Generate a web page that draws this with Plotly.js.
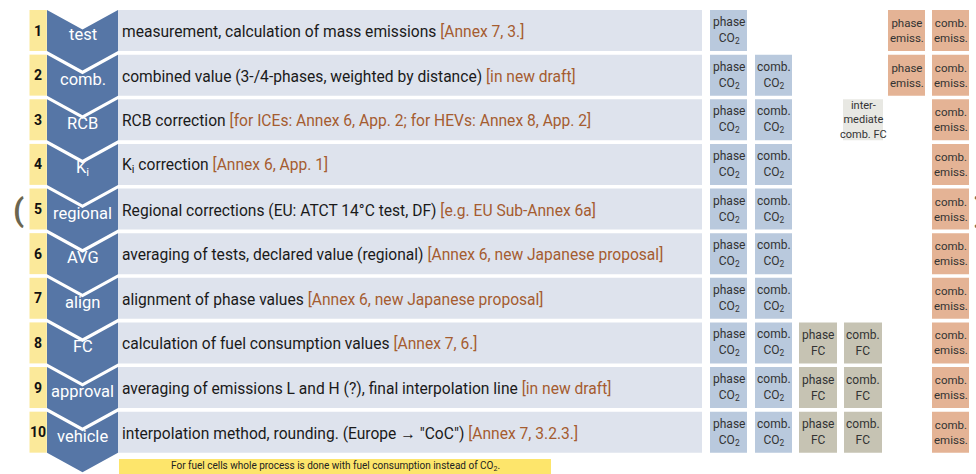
<!DOCTYPE html>
<html>
<head>
<meta charset="utf-8">
<script src="https://cdn.plot.ly/plotly-3.0.1.min.js"></script>
<style>html,body{margin:0;padding:0;background:#fff}#chart{width:976px;height:474px}</style>
</head>
<body>
<div id="chart"></div>
<script>
// ---- data ----
const stepNumbers = ['1','2','3','4','5','6','7','8','9','10'];
const stepLabels = ['test','comb.','RCB','K<sub>i</sub>','regional','AVG','align','FC','approval','vehicle'];
const stepTexts = [
  'measurement, calculation of mass emissions',
  'combined value (3-/4-phases, weighted by distance)',
  'RCB correction',
  'K<sub>i</sub> correction',
  'Regional corrections (EU: ATCT 14°C test, DF)',
  'averaging of tests, declared value (regional)',
  'alignment of phase values',
  'calculation of fuel consumption values',
  'averaging of emissions L and H (?), final interpolation line',
  'interpolation method, rounding. (Europe \u2192 "CoC")'
];
const stepRefs = [
  '[Annex 7, 3.]',
  '[in new draft]',
  '[for ICEs: Annex 6, App. 2; for HEVs: Annex 8, App. 2]',
  '[Annex 6, App. 1]',
  '[e.g. EU Sub-Annex 6a]',
  '[Annex 6, new Japanese proposal]',
  '[Annex 6, new Japanese proposal]',
  '[Annex 7, 6.]',
  '[in new draft]',
  '[Annex 7, 3.2.3.]'
];
const phaseCO2Rows = [1,2,3,4,5,6,7,8,9,10];
const combCO2Rows = [2,3,4,5,6,7,8,9,10];
const phaseFCRows = [8,9,10];
const combFCRows = [8,9,10];
const interFCRows = [3];
const phaseEmissRows = [1,2];
const combEmissRows = [1,2,3,4,5,6,7,8,9,10];
const cellLabels = {
  phaseCO2: 'phase<br>CO<sub>2</sub>',
  combCO2: 'comb.<br>CO<sub>2</sub>',
  phaseFC: 'phase<br>FC',
  combFC: 'comb.<br>FC',
  interFC: 'inter-<br>mediate<br>comb. FC',
  phaseEmiss: 'phase<br>emiss.',
  combEmiss: 'comb.<br>emiss.'
};
const footNote = 'For fuel cells whole process is done with fuel consumption instead of CO<sub>2</sub>.';

// ---- layout constants ----
const PITCH = 44.63;            // px per row
const HALF = 20.5 / PITCH;      // half row box height (units)
const PX = 1 / PITCH;           // one pixel in y units
const FONT = 'Roboto, "Liberation Sans", sans-serif';
const colX = {
  num: [29.5, 46.8], chev: [47, 118], text: [118, 702],
  phaseCO2: [710, 747], combCO2: [755, 792], phaseFC: [799, 837], combFC: [844, 882],
  interFC: [843, 883], phaseEmiss: [888, 925], combEmiss: [932, 969]
};
const colors = {
  num: '#fbe99a', chev: '#5676a6', text: '#dee3ed',
  phaseCO2: '#b9c9dd', combCO2: '#b9c9dd', phaseFC: '#c6c3b3', combFC: '#c6c3b3',
  interFC: '#e8e8e3', phaseEmiss: '#e4b395', combEmiss: '#e4b395'
};
const cellFontSize = {phaseCO2: 12, combCO2: 12, phaseFC: 12, combFC: 12, interFC: 11, phaseEmiss: 11.5, combEmiss: 11.5};
const rows = stepNumbers.map((s, i) => i + 1);
const pxToY = p => 1 + (p - 30.5) * PX;

const shapes = [];
const annotations = [];
function rect(x0, x1, y0, y1, color) {
  shapes.push({type: 'rect', xref: 'x', yref: 'y', x0, x1, y0, y1, fillcolor: color, line: {width: 0}, layer: 'below'});
}

// rows: number cell, text area, chevron
rows.forEach((r, i) => {
  const top = r - HALF, bot = r + HALF;
  rect(colX.num[0], colX.num[1], top, bot, colors.num);
  rect(colX.text[0], colX.text[1], top, bot, colors.text);
  const L = colX.chev[0], R = colX.chev[1], C = (L + R) / 2, d = 19.5 * PX;
  const path = `M ${L},${top} L ${C},${top + d} L ${R},${top} L ${R},${bot} L ${C},${bot + d} L ${L},${bot} Z`;
  shapes.push({type: 'path', xref: 'x', yref: 'y', path, fillcolor: colors.chev, line: {width: 0}, layer: 'above'});

  annotations.push({x: (colX.num[0] + colX.num[1]) / 2, y: r, xref: 'x', yref: 'y', text: '<b>' + stepNumbers[i] + '</b>',
    showarrow: false, font: {family: FONT, size: 14, color: '#111'}});
  annotations.push({x: C, y: r + 4 * PX, xref: 'x', yref: 'y', text: stepLabels[i],
    showarrow: false, font: {family: FONT, size: 16.5, color: '#ffffff'}});
  annotations.push({x: 120, y: r + 1 * PX, xref: 'x', yref: 'y', xanchor: 'left',
    text: stepTexts[i] + ' <span style="color:#a55c30">' + stepRefs[i] + '</span>',
    showarrow: false, font: {family: FONT, size: 15.6, color: '#1a1a1a'}});
});

// result cells
const cellSets = {
  phaseCO2: phaseCO2Rows, combCO2: combCO2Rows, phaseFC: phaseFCRows, combFC: combFCRows,
  interFC: interFCRows, phaseEmiss: phaseEmissRows, combEmiss: combEmissRows
};
const traces = [];
Object.keys(cellSets).forEach(k => {
  const rr = cellSets[k];
  const x0 = colX[k][0], x1 = colX[k][1];
  traces.push({
    type: 'bar', orientation: 'h', y: rr, x: rr.map(() => x1 - x0), base: x0,
    width: 2 * HALF, marker: {color: colors[k], line: {width: 0}},
    hoverinfo: 'skip', showlegend: false
  });
  rr.forEach(r => {
    annotations.push({x: (x0 + x1) / 2, y: r, xref: 'x', yref: 'y', text: cellLabels[k],
      showarrow: false, font: {family: FONT, size: cellFontSize[k], color: '#333'}});
  });
});

// footnote
rect(119, 551, pxToY(459), pxToY(476), '#fde56b');
annotations.push({x: 335, y: pxToY(466.5), xref: 'x', yref: 'y', text: footNote, showarrow: false,
  font: {family: FONT, size: 10, color: '#222'}});

// brackets
annotations.push({x: 18, y: pxToY(210), xref: 'x', yref: 'y', text: '<b>(</b>', showarrow: false,
  font: {family: FONT, size: 32, color: '#6b6650'}});
annotations.push({x: 972, y: pxToY(210), xref: 'x', yref: 'y', xanchor: 'left', text: '<b>)</b>', showarrow: false,
  font: {family: FONT, size: 32, color: '#6b6650'}});

const layout = {
  width: 976, height: 474,
  margin: {l: 0, r: 0, t: 0, b: 0},
  paper_bgcolor: '#ffffff', plot_bgcolor: '#ffffff',
  xaxis: {range: [0, 976], visible: false, fixedrange: true},
  yaxis: {range: [pxToY(474), pxToY(0)], visible: false, fixedrange: true},
  barmode: 'overlay',
  shapes, annotations, showlegend: false
};
Plotly.newPlot('chart', traces, layout, {displayModeBar: false, staticPlot: true});
</script>
</body>
</html>
